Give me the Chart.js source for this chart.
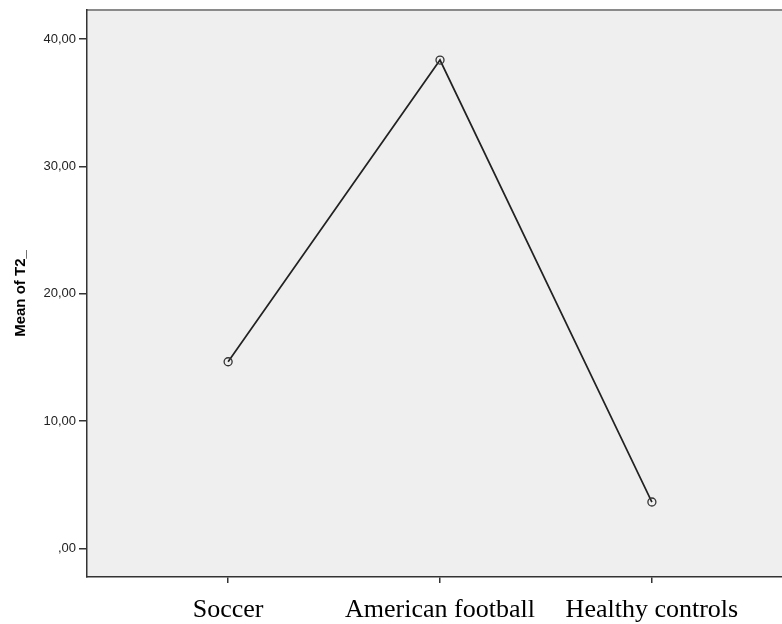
<!DOCTYPE html>
<html>
<head>
<meta charset="utf-8">
<script src="https://cdn.jsdelivr.net/npm/chart.js@4/dist/chart.umd.min.js"></script>
<style>
  html, body { margin: 0; padding: 0; background: #fff; overflow: hidden; }
  canvas { display: block; }
</style>
</head>
<body>
<canvas id="graphique-moyenne" width="782" height="624"></canvas>
<script>
// Données
const categories = ['Soccer', 'American football', 'Healthy controls'];
const meanT2 = [14.66, 38.36, 3.64];
const yTicks = [0, 10, 20, 30, 40];

const AXE = '#333333';

// fond gris de la zone de tracé + bordure haute
const fondZone = {
  id: 'fondZone',
  beforeDraw(chart) {
    const { ctx, chartArea: a } = chart;
    ctx.save();
    ctx.fillStyle = '#efefef';
    ctx.fillRect(a.left, a.top, a.right - a.left, a.bottom - a.top);
    ctx.strokeStyle = '#8a8a8a';
    ctx.lineWidth = 2;
    ctx.beginPath();
    ctx.moveTo(a.left, a.top);
    ctx.lineTo(a.right, a.top);
    ctx.stroke();
    ctx.restore();
  }
};

function formatVirgule(v) {
  if (v === 0) { return ',00'; }
  return v.toFixed(2).replace('.', ',');
}

const points = meanT2.map((v, i) => ({ x: i, y: v }));

const ctx = document.getElementById('graphique-moyenne').getContext('2d');
new Chart(ctx, {
  type: 'line',
  data: {
    datasets: [{
      data: points,
      borderColor: '#222222',
      borderWidth: 1.7,
      pointRadius: 4,
      pointBorderWidth: 1.3,
      pointBorderColor: '#333333',
      pointBackgroundColor: 'rgba(0,0,0,0)',
      tension: 0,
      fill: false
    }]
  },
  options: {
    responsive: false,
    animation: false,
    layout: { autoPadding: false, padding: { top: 10, left: 0, right: 0, bottom: 0 } },
    plugins: {
      legend: { display: false },
      tooltip: { enabled: false }
    },
    scales: {
      x: {
        type: 'linear',
        min: -0.666,
        max: 2.614,
        afterFit(scale) {
          scale.height = 47;
          scale.paddingLeft = 0;
          scale.paddingRight = 0;
        },
        afterBuildTicks(scale) {
          scale.ticks = categories.map((c, i) => ({ value: i }));
        },
        grid: { drawOnChartArea: false, drawTicks: true, tickLength: 6, color: AXE, lineWidth: 1.5 },
        border: { display: true, color: AXE, width: 1.5 },
        ticks: {
          autoSkip: false,
          maxRotation: 0,
          padding: 12,
          color: '#000',
          font: { family: '"Liberation Serif", "Times New Roman", serif', size: 26 },
          callback: (v) => categories[v]
        }
      },
      y: {
        min: -2.25,
        max: 42.29,
        afterFit(scale) {
          scale.width = 87;
          scale.paddingTop = 0;
          scale.paddingBottom = 0;
        },
        afterBuildTicks(scale) {
          scale.ticks = yTicks.map(v => ({ value: v }));
        },
        grid: { drawOnChartArea: false, drawTicks: true, tickLength: 8, color: AXE, lineWidth: 1.5 },
        border: { display: true, color: AXE, width: 1.5 },
        ticks: {
          padding: 3,
          color: '#222',
          font: { family: '"Liberation Sans", Arial, sans-serif', size: 13 },
          callback: (v) => formatVirgule(v)
        },
        title: {
          display: true,
          text: 'Mean of T2_',
          color: '#000',
          padding: { top: 12, bottom: 0 },
          font: { family: '"Liberation Sans", Arial, sans-serif', size: 15, weight: 'bold' }
        }
      }
    }
  },
  plugins: [fondZone]
});
</script>
</body>
</html>
